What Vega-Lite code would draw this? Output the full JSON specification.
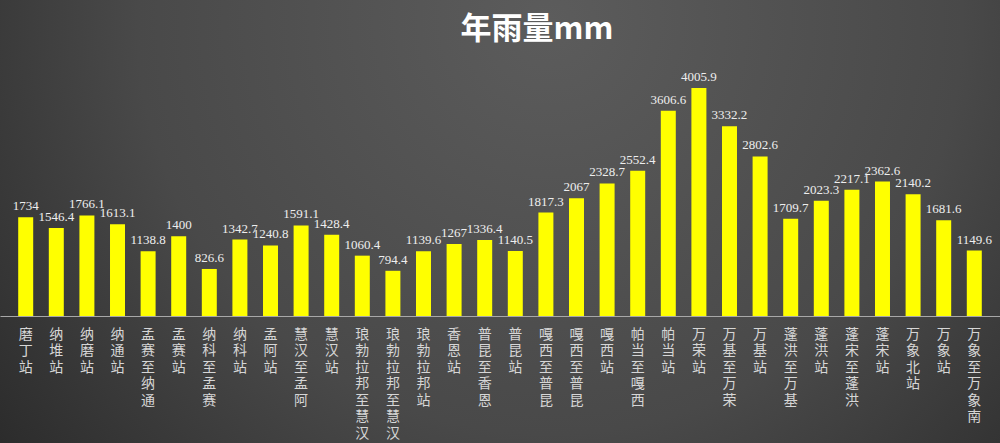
{
  "$schema": "https://vega.github.io/schema/vega-lite/v6.json",
  "width": 1000,
  "height": 443,
  "autosize": {"type": "none"},
  "padding": 0,
  "background": "#2e2e2e",
  "config": {
    "view": {
      "stroke": null,
      "fill": {
        "gradient": "radial",
        "x1": 0.55, "y1": 0.3, "r1": 0,
        "x2": 0.55, "y2": 0.3, "r2": 0.75,
        "stops": [
          {"offset": 0, "color": "#5c5c5c"},
          {"offset": 0.55, "color": "#494949"},
          {"offset": 1, "color": "#262626"}
        ]
      }
    }
  },
  "title": {
    "text": "年雨量mm",
    "font": "Noto Sans CJK SC",
    "fontSize": 31,
    "fontWeight": "bold",
    "color": "#ffffff",
    "anchor": "middle",
    "offset": -46,
    "dx": 37
  },
  "data": {
    "values": [
      {"station": "磨丁站", "rain": 1734},
      {"station": "纳堆站", "rain": 1546.4},
      {"station": "纳磨站", "rain": 1766.1},
      {"station": "纳通站", "rain": 1613.1},
      {"station": "孟赛至纳通", "rain": 1138.8},
      {"station": "孟赛站", "rain": 1400},
      {"station": "纳科至孟赛", "rain": 826.6},
      {"station": "纳科站", "rain": 1342.7},
      {"station": "孟阿站", "rain": 1240.8},
      {"station": "慧汉至孟阿", "rain": 1591.1},
      {"station": "慧汉站", "rain": 1428.4},
      {"station": "琅勃拉邦至慧汉", "rain": 1060.4},
      {"station": "琅勃拉邦至慧汉\u200b", "rain": 794.4},
      {"station": "琅勃拉邦站", "rain": 1139.6},
      {"station": "香恩站", "rain": 1267},
      {"station": "普昆至香恩", "rain": 1336.4},
      {"station": "普昆站", "rain": 1140.5},
      {"station": "嘎西至普昆", "rain": 1817.3},
      {"station": "嘎西至普昆\u200b", "rain": 2067},
      {"station": "嘎西站", "rain": 2328.7},
      {"station": "帕当至嘎西", "rain": 2552.4},
      {"station": "帕当站", "rain": 3606.6},
      {"station": "万荣站", "rain": 4005.9},
      {"station": "万基至万荣", "rain": 3332.2},
      {"station": "万基站", "rain": 2802.6},
      {"station": "蓬洪至万基", "rain": 1709.7},
      {"station": "蓬洪站", "rain": 2023.3},
      {"station": "蓬宋至蓬洪", "rain": 2217.1},
      {"station": "蓬宋站", "rain": 2362.6},
      {"station": "万象北站", "rain": 2140.2},
      {"station": "万象站", "rain": 1681.6},
      {"station": "万象至万象南", "rain": 1149.6}
    ]
  },
  "encoding": {
    "x": {
      "field": "station",
      "type": "nominal",
      "sort": null,
      "scale": {"paddingInner": 0.51, "paddingOuter": 0.595},
      "axis": {
        "title": null,
        "orient": "bottom",
        "offset": -127,
        "domainColor": "#a8a8a8",
        "domainWidth": 1,
        "ticks": false,
        "labelAngle": 0,
        "labelAlign": "center",
        "labelBaseline": "top",
        "labelPadding": 11,
        "labelFont": "Noto Sans CJK SC",
        "labelFontSize": 14,
        "labelLineHeight": 16.5,
        "labelColor": "#d6d6d6",
        "labelExpr": "split(replace(datum.label, '\u200b', ''), '')",
        "labelOverlap": false,
        "labelLimit": 0
      }
    },
    "y": {
      "field": "rain",
      "type": "quantitative",
      "scale": {"domain": [-2231, 5552], "nice": false, "zero": false},
      "axis": null
    }
  },
  "layer": [
    {
      "mark": {"type": "bar", "color": "#ffff00"},
      "encoding": {"y2": {"datum": 0}}
    },
    {
      "mark": {
        "type": "text",
        "baseline": "bottom",
        "dy": -4,
        "font": "Liberation Serif",
        "fontSize": 13,
        "color": "#eeeeee"
      },
      "encoding": {"text": {"field": "rain", "type": "nominal"}}
    }
  ]
}
